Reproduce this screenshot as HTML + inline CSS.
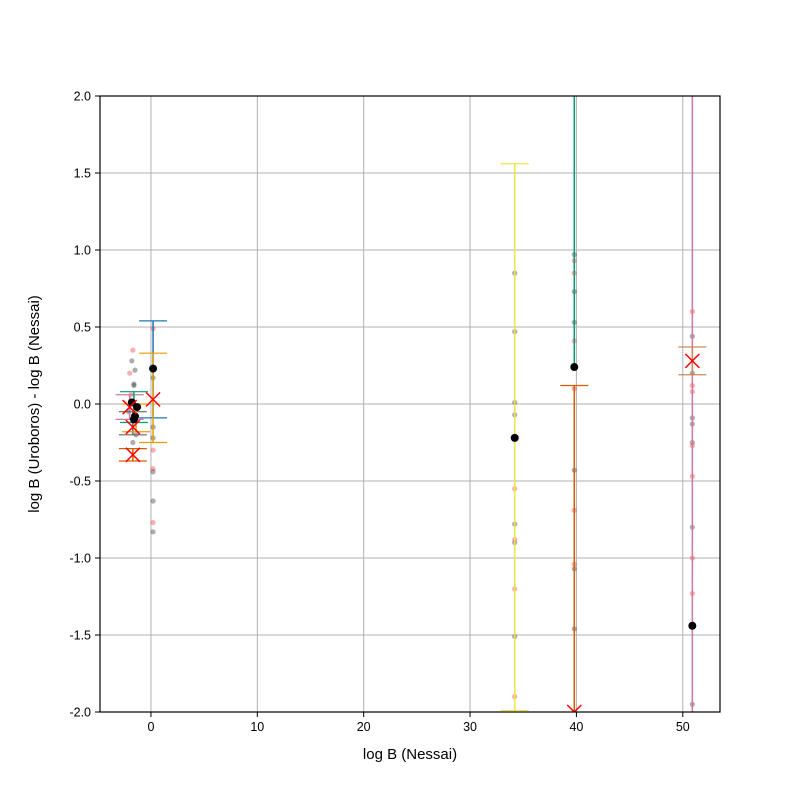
<!DOCTYPE html>
<html><head><meta charset="utf-8"><style>
body{margin:0;background:#fff;font-family:"Liberation Sans",sans-serif}
</style></head><body>
<svg id="chart" width="800" height="800" xmlns="http://www.w3.org/2000/svg">
<rect width="800" height="800" fill="#fff"/>
<g id="grid"></g><g id="marks"></g><g id="axes"></g>
</svg>
<script>
const xTicks=[0,10,20,30,40,50];
const yTicks=[-2.0,-1.5,-1.0,-0.5,0.0,0.5,1.0,1.5,2.0];
const ebX=[0.2,0.2,-2.0,-1.7,-1.7,-1.6,-1.4,34.2,39.8,39.8,50.9,50.9];
const ebLo=[-0.09,-0.25,-0.1,-0.2,-0.37,-0.12,-0.18,-1.99,0.24,-2.5,-2.5,0.19];
const ebHi=[0.54,0.33,0.06,-0.05,-0.29,0.08,0.0,1.56,2.5,0.12,2.5,0.37];
const ebColor=["#1f77b4","#e69f00","#cc79a7","#666","#d55e00","#009e73","#e69f00","#f0e442","#009e73","#d55e00","#cc79a7","#c98b5a"];
const ebCap=[true,true,true,true,true,true,true,true,false,true,false,true];
const xMarkX=[0.2,-2.0,-1.7,-1.7,39.8,50.9];
const xMarkY=[0.03,-0.02,-0.15,-0.33,-2.0,0.28];
const dotX=[0.2,-1.8,-1.3,-1.5,-1.6,34.2,39.8,50.9];
const dotY=[0.23,0.01,-0.02,-0.08,-0.1,-0.22,0.24,-1.44];
const smpX=[0.2,0.2,0.2,0.2,0.2,0.2,0.2,0.2,0.2,0.2,-2,-1.8,-1.7,-1.5,-1.9,-1.6,-2.1,-1.4,-1.7,-1.6,34.2,34.2,34.2,34.2,34.2,34.2,34.2,34.2,34.2,34.2,34.2,39.8,39.8,39.8,39.8,39.8,39.8,39.8,39.8,39.8,39.8,39.8,39.8,50.9,50.9,50.9,50.9,50.9,50.9,50.9,50.9,50.9,50.9,50.9,50.9,50.9,50.9];
const smpY=[0.49,0.17,-0.15,-0.42,-0.44,-0.63,-0.77,-0.83,-0.3,-0.22,0.2,0.28,0.35,0.22,0.06,0.12,-0.05,-0.2,-0.25,0.13,0.85,0.47,0.01,-0.07,-0.55,-0.78,-0.88,-0.9,-1.2,-1.51,-1.9,0.97,0.93,0.85,0.73,0.53,0.41,-0.43,-0.69,-1.04,-1.07,-1.46,0.1,0.6,0.44,0.2,0.08,0.12,-0.09,-0.13,-0.25,-0.27,-0.47,-0.8,-1.0,-1.23,-1.95];
const smpRed=[1,0,0,1,0,0,1,0,1,0,1,0,1,0,1,0,0,0,0,0,0,0,0,0,1,0,1,0,1,0,1,0,1,1,0,0,1,0,1,1,0,0,1,1,0,0,1,1,0,0,0,1,1,0,1,1,0];
const L=100,R=720,T=96,B=712,xmin=-4.79,xmax=53.5,ymin=-2,ymax=2;
const X=v=>L+(v-xmin)/(xmax-xmin)*(R-L);
const Y=v=>B-(v-ymin)/(ymax-ymin)*(B-T);
const NS="http://www.w3.org/2000/svg";
function mk(p,tag,a){const e=document.createElementNS(NS,tag);for(const k in a)e.setAttribute(k,a[k]);p.appendChild(e);return e;}
const grid=document.getElementById('grid'),marks=document.getElementById('marks'),axes=document.getElementById('axes');
const clip=mk(document.getElementById('chart'),'clipPath',{id:'cp'});mk(clip,'rect',{x:L,y:T,width:R-L,height:B-T});
marks.setAttribute('clip-path','url(#cp)');
xTicks.forEach(t=>{const l=mk(grid,'line',{x1:X(t),x2:X(t),y1:T,y2:B,stroke:'#b0b0b0','stroke-width':1});

mk(axes,'line',{x1:X(t),x2:X(t),y1:B,y2:B+5,stroke:'#000'});
const tx=mk(axes,'text',{x:X(t),y:B+19,'text-anchor':'middle','font-size':12.5});tx.textContent=t;
});
yTicks.forEach(t=>{const l=mk(grid,'line',{x1:L,x2:R,y1:Y(t),y2:Y(t),stroke:'#b0b0b0','stroke-width':1});

mk(axes,'line',{x1:L-5,x2:L,y1:Y(t),y2:Y(t),stroke:'#000'});
const tx=mk(axes,'text',{x:L-9,y:Y(t)+4.5,'text-anchor':'end','font-size':12.5});tx.textContent=t.toFixed(1);
});
smpX.forEach((v,i)=>{const c=mk(marks,'circle',{cx:X(v),cy:Y(smpY[i]),r:2.6,fill:smpRed[i]?'#ff3333':'#333','fill-opacity':0.4});
});
ebX.forEach((v,i)=>{const g=mk(marks,'g',{stroke:ebColor[i],'stroke-width':1.5});

mk(g,'line',{x1:X(v),x2:X(v),y1:Y(ebLo[i]),y2:Y(ebHi[i])});
if(ebCap[i]){[ebLo[i],ebHi[i]].forEach(q=>mk(g,'line',{x1:X(v)-14,x2:X(v)+14,y1:Y(q),y2:Y(q),'stroke-width':1.2}));}});
dotX.forEach((v,i)=>{const c=mk(marks,'circle',{cx:X(v),cy:Y(dotY[i]),r:4,fill:'#000'});
});
xMarkX.forEach((v,i)=>{const g=mk(marks,'g',{stroke:'#f00','stroke-width':1.5});

const cx=X(v),cy=Y(xMarkY[i]);mk(g,'line',{x1:cx-7,y1:cy-7,x2:cx+7,y2:cy+7});mk(g,'line',{x1:cx-7,y1:cy+7,x2:cx+7,y2:cy-7});});
const fr=mk(axes,'rect',{x:L,y:T,width:R-L,height:B-T,fill:'none',stroke:'#000','stroke-width':1.2});

const xt=mk(axes,'text',{x:410,y:759,'text-anchor':'middle','font-size':15});xt.textContent='log B (Nessai)';

const yt=mk(axes,'text',{x:39,y:404,'text-anchor':'middle','font-size':15,transform:'rotate(-90 39 404)'});yt.textContent='log B (Uroboros) - log B (Nessai)';

</script>
</body></html>
